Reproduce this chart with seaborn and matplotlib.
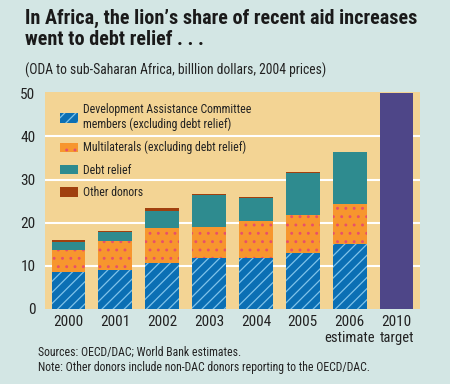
import matplotlib
matplotlib.use("Agg")
import matplotlib.pyplot as plt
from matplotlib.patches import Patch
from matplotlib import font_manager
import seaborn as sns
import pandas as pd
import numpy as np

years = ["2000", "2001", "2002", "2003", "2004", "2005", "2006", "2010"]
sublabels = ["", "", "", "", "", "", "estimate", "target"]
dac = [8.6, 9.0, 10.6, 11.8, 11.8, 12.9, 15.0, 0]
multilateral = [5.1, 6.7, 8.2, 7.2, 8.6, 8.8, 9.3, 0]
debt_relief = [1.9, 2.1, 3.9, 7.4, 5.4, 9.8, 12.0, 0]
other = [0.3, 0.2, 0.6, 0.2, 0.1, 0.2, 0.2, 0]
target = [0, 0, 0, 0, 0, 0, 0, 50]

sns.set_style("white")
names = {f.name for f in font_manager.fontManager.ttflist}
narrow = None
for cand in ["Liberation Sans Narrow", "Roboto Condensed", "Open Sans Condensed", "Roboto"]:
    if cand in names:
        narrow = cand
        break
if narrow is None:
    narrow = "DejaVu Sans"
FONT = [narrow, "DejaVu Sans"]
plt.rcParams["font.family"] = FONT
plt.rcParams["hatch.linewidth"] = 0.9

BG = "#d3e6e4"
PLOT_BG = "#f3d494"
C_DAC = "#0b6fb4"
C_DAC_H = "#7fc3ea"
C_MUL = "#f7962e"
C_MUL_H = "#e8506a"
C_DEBT = "#2e8b8f"
C_OTHER = "#a0400e"
C_TGT = "#4e4688"
TXT = "#222222"

fig = plt.figure(figsize=(4.5, 3.84), dpi=100, facecolor=BG)
ax = fig.add_axes([45/450, 1-309/384, 375/450, (309-92)/384])
ax.set_facecolor(PLOT_BG)

df = pd.DataFrame({"year": years, "dac": dac, "mul": multilateral,
                   "debt": debt_relief, "other": other, "target": target})
df["c1"] = df["dac"]
df["c2"] = df["c1"] + df["mul"]
df["c3"] = df["c2"] + df["debt"]
df["c4"] = df["c3"] + df["other"]

W = 0.72
sns.barplot(data=df, x="year", y="target", color=C_TGT, width=W, ax=ax,
            saturation=1, linewidth=0)
sns.barplot(data=df, x="year", y="c4", color=C_OTHER, width=W, ax=ax,
            saturation=1, linewidth=0)
sns.barplot(data=df, x="year", y="c3", color=C_DEBT, width=W, ax=ax,
            saturation=1, linewidth=0)
sns.barplot(data=df, x="year", y="c2", color=C_MUL, width=W, ax=ax,
            saturation=1, hatch="..", edgecolor=C_MUL_H, linewidth=0)
sns.barplot(data=df, x="year", y="c1", color=C_DAC, width=W, ax=ax,
            saturation=1, hatch="///", edgecolor=C_DAC_H, linewidth=0)

ax.set_xlim(-0.5, 7.5)
ax.set_ylim(0, 50.3)
ax.set_yticks([0, 10, 20, 30, 40, 50])
ax.set_yticklabels(["0", "10", "20", "30", "40", "50"], fontsize=11, color=TXT)
ax.set_xticks(range(8))
ax.set_xticklabels(years, fontsize=11, color=TXT)
ax.tick_params(axis="both", length=0, pad=4)
ax.tick_params(axis="y", pad=7)
ax.set_xlabel("")
ax.set_ylabel("")
ax.set_xticks(np.arange(-0.5, 8.0, 1.0), minor=True)
ax.tick_params(axis="x", which="minor", direction="in", length=4, width=1, color=TXT)
for s in ax.spines.values():
    s.set_visible(False)
for yv in [10, 20, 30, 40]:
    ax.axhline(yv, color="white", lw=1.5, zorder=0.5)
ax.set_axisbelow(True)

for i, lab in enumerate(sublabels):
    if lab:
        ax.text(i, -5.0, lab, ha="center", va="top", fontsize=10.5, color=TXT,
                transform=ax.transData, clip_on=False)

handles = [
    Patch(facecolor=C_DAC, edgecolor=C_DAC_H, hatch="///", linewidth=0),
    Patch(facecolor=C_MUL, edgecolor=C_MUL_H, hatch="..", linewidth=0),
    Patch(facecolor=C_DEBT, linewidth=0),
    Patch(facecolor=C_OTHER, linewidth=0),
]
labels = ["Development Assistance Committee\nmembers (excluding debt relief)",
          "Multilaterals (excluding debt relief)",
          "Debt relief",
          "Other donors"]
leg = ax.legend(handles, labels, loc="upper left", bbox_to_anchor=(0.027, 0.972),
                borderaxespad=0, frameon=False, fontsize=8.5,
                handlelength=1.5, handleheight=0.82,
                handletextpad=0.45, labelspacing=0.8, labelcolor=TXT)

fig.text(25/450, 1-9/384,
         "In Africa, the lion\u2019s share of recent aid increases\nwent to debt relief . . .",
         ha="left", va="top", fontsize=14.5, fontweight="bold", color="#1a1a1a",
         linespacing=1.1)
fig.text(25/450, 1-63/384,
         "(ODA to sub-Saharan Africa, billlion dollars, 2004 prices)",
         ha="left", va="top", fontsize=9.8, color=TXT)
fig.text(38/450, 1-346/384, "Sources: OECD/DAC; World Bank estimates.",
         ha="left", va="top", fontsize=8.5, color=TXT)
fig.text(38/450, 1-361/384,
         "Note: Other donors include non-DAC donors reporting to the OECD/DAC.",
         ha="left", va="top", fontsize=8.5, color=TXT)

fig.savefig("out.png", dpi=100, facecolor=BG)
